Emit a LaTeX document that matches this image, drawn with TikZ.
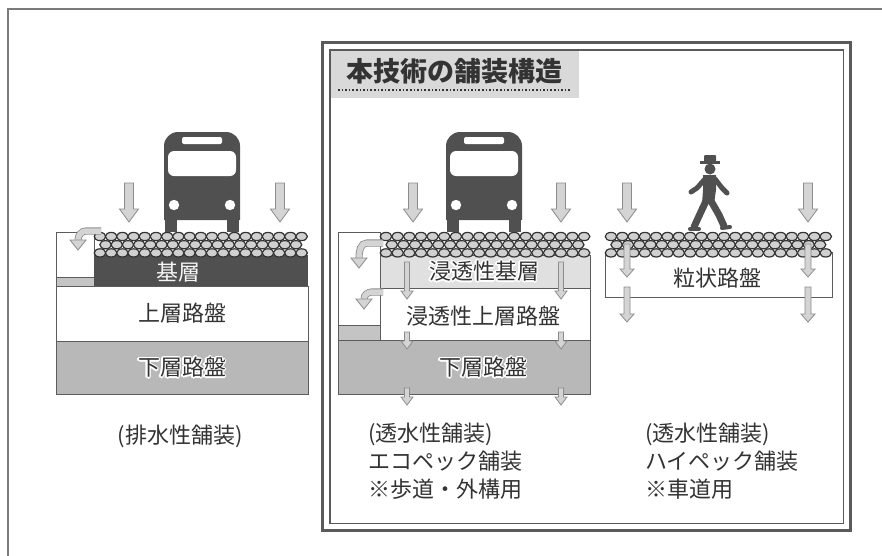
\documentclass[tikz,border=0pt]{standalone}
\usepackage{fontspec}
\usepackage{xcolor}
\usepackage{tikz}
\usepackage[copies]{contour}
\newfontfamily\jp{Noto Sans CJK JP}
\contourlength{1.3pt}

\definecolor{ink}{HTML}{333333}
\definecolor{framegray}{HTML}{5A5A5A}
\definecolor{basedark}{HTML}{505050}
\definecolor{lowergray}{HTML}{B8B8B8}
\definecolor{permgray}{HTML}{E0E0E0}
\definecolor{stripgray}{HTML}{C4C4C4}
\definecolor{pebblefill}{HTML}{D0D0D0}
\definecolor{arrowfill}{HTML}{D4D4D4}

% block arrow pointing down: x, top y
\newcommand\bigdown[2]{%
  \filldraw[blockarrow] (#1-4.5,#2) -- (#1+4.5,#2) -- (#1+4.5,#2+26) -- (#1+9.5,#2+26)
    -- (#1,#2+39) -- (#1-9.5,#2+26) -- (#1-4.5,#2+26) -- cycle;}
% thin seepage arrow: x, top y, tip y, half shaft width
\newcommand\smalldown[4]{%
  \filldraw[blockarrow] (#1-#4,#2) -- (#1+#4,#2) -- (#1+#4,#3-8) -- (#1+2*#4+1,#3-8)
    -- (#1,#3) -- (#1-2*#4-1,#3-8) -- (#1-#4,#3-8) -- cycle;}
% water turning off the edge: start x, start y, tip x, tip y
\newcommand\curlarrow[4]{%
  \draw[curlshaft] (#1,#2) -- (#3+8,#2) to[out=180,in=90] (#3,#4-10);
  \filldraw[blockarrow] (#3-8,#4-10) -- (#3+8,#4-10) -- (#3,#4) -- cycle;}
% three staggered rows of stones: first x, top y, count, pitch
\newcommand\pebbles[4]{%
  \foreach \row in {0,1,2}{
    \pgfmathsetmacro\shift{mod(\row,2)*0.5}
    \pgfmathtruncatemacro\num{#3-mod(\row,2)}
    \foreach \i in {1,...,\num}{
      \filldraw[pebble] ({#1+(\i-1+\shift)*#4},{#2+4.5+\row*8.2}) ellipse (5.8 and 4.1);
    }}}

\tikzset{
  pics/bus/.style={code={
    \fill[basedark] (-38,-12) [rounded corners=14pt] -- (-38,-100) -- (38,-100)
      [sharp corners] -- (38,-12) -- cycle;
    \fill[basedark] (-37,-14) rectangle (-25,0);
    \fill[basedark] (25,-14) rectangle (37,0);
    \fill[white, rounded corners=2pt] (-20,-95) rectangle (20,-88);
    \fill[white, rounded corners=6pt] (-34,-81) rectangle (34,-56);
    \fill[white] (-28,-27) circle (5.2);
    \fill[white] (28,-27) circle (5.2);
  }}
}

\begin{document}
\begin{tikzpicture}[x=1pt, y=-1pt,
  every node/.style={inner sep=0pt, text=ink},
  layertext/.style={font=\jp\fontsize{22}{26}\selectfont},
  captext/.style={font=\jp\fontsize{22}{26}\selectfont, anchor=base west},
  titletext/.style={font=\jp\bfseries\fontsize{27}{30}\selectfont},
  layerline/.style={draw=ink!80, line width=0.8pt},
  pebble/.style={draw=ink, line width=1.2pt, fill=pebblefill},
  blockarrow/.style={draw=gray!90, line width=0.8pt, fill=arrowfill, line join=miter},
  curlshaft/.style={draw=gray!90, line width=0.8pt, double=arrowfill, double distance=5.5pt},
  walker/.style={draw=basedark, line cap=round, line join=round}]
\useasboundingbox (0,0) rectangle (882,555);
\fill[white] (0,0) rectangle (882,555);

% page frame, open to the right and below
\draw[framegray!80, line width=1.2pt] (8,570) -- (8,9) -- (900,9);

% double frame
\draw[framegray, line width=3.5pt] (322.5,42.5) rectangle (850.5,530.5);
\draw[framegray, line width=1.5pt] (330,50) rectangle (843.5,523.5);
\fill[gray!30] (331,51) rectangle (579,98);
\node[titletext] (title) at (454,71) {本技術の舗装構造};
\draw[ink, dotted, line width=1.6pt] (338,90) -- (571,90);

% drainage pavement
\filldraw[layerline, fill=white] (56,232) rectangle (94,277);
\filldraw[layerline, fill=stripgray] (56,277) rectangle (94,286);
\fill[basedark] (94,255) rectangle (308,286);
\filldraw[layerline, fill=white] (56,286) rectangle (308,341);
\filldraw[layerline, fill=lowergray] (56,341) rectangle (308,394);
\pebbles{100}{232}{19}{11.2}
\curlarrow{101}{231}{78}{250}
\bigdown{129}{183}
\bigdown{280}{183}
\pic at (202,232) {bus};
\node[layertext, text=white!92!gray] (base1) at (178,272) {基層};
\node[layertext] (upper1) at (182,313) {上層路盤};
\node[layertext] (lower1) at (182,368) {\contour{white}{下層路盤}};
\node[layertext] (cap1) at (180,436) {(排水性舗装)};

% eco pavement
\filldraw[layerline, fill=white] (338,232) rectangle (380,325);
\filldraw[layerline, fill=stripgray] (338,325) rectangle (380,340);
\filldraw[layerline, fill=permgray] (380,255) rectangle (590,288);
\filldraw[layerline, fill=white] (380,288) rectangle (590,340);
\filldraw[layerline, fill=lowergray] (338,340) rectangle (590,394);
\pebbles{386}{232}{18}{11.65}
\curlarrow{383}{243}{359}{268}
\curlarrow{383}{292}{364}{309}
\bigdown{413}{183}
\bigdown{561}{183}
\pic at (484,232) {bus};
\foreach \ax in {407,561}{
  \smalldown{\ax}{262}{299}{2.5}
  \smalldown{\ax}{332}{349}{2.5}
  \smalldown{\ax}{388}{405}{2.5}
}
\node[layertext] (perm2) at (484,272) {\contour{white}{浸透性基層}};
\node[layertext] (upper2) at (483,316) {浸透性上層路盤};
\node[layertext] (lower2) at (483,368) {\contour{white}{下層路盤}};
\node[captext] (cap2a) at (368,441) {(透水性舗装)};
\node[captext] (cap2b) at (368,469) {エコペック舗装};
\node[captext] (cap2c) at (368,497) {※歩道・外構用};

% high pavement
\filldraw[layerline, fill=white] (605,252) rectangle (832,297);
\pebbles{611}{232}{20}{11.3}
\bigdown{627}{183}
\bigdown{808}{183}
\foreach \ax in {627,808}{
  \smalldown{\ax}{244}{277}{3}
  \smalldown{\ax}{287}{322}{3}
}
\fill[basedark] (700,163.5) rectangle (720,161);
\fill[basedark, rounded corners=1pt] (704,162) rectangle (716,155);
\fill[basedark] (710,169) circle (5.5);
\fill[basedark] (703,175) -- (716,175) -- (716,190) -- (714,204) -- (702,204) -- (703,190) -- cycle;
\draw[walker, line width=5pt] (705,179) -- (697,188) -- (691,192);
\draw[walker, line width=5pt] (715,179) -- (722,188) -- (727,193);
\draw[walker, line width=7pt] (706,201) -- (699,216) -- (694,227);
\draw[walker, line width=7pt] (711,201) -- (719,215) -- (724,226);
\draw[walker, line width=4pt] (690,229) -- (699,229);
\draw[walker, line width=4pt] (722,228) -- (730,227);
\node[layertext] (gran3) at (717,278) {粒状路盤};
\node[captext] (cap3a) at (645,441) {(透水性舗装)};
\node[captext] (cap3b) at (645,469) {ハイペック舗装};
\node[captext] (cap3c) at (645,497) {※車道用};
\end{tikzpicture}
\end{document}
